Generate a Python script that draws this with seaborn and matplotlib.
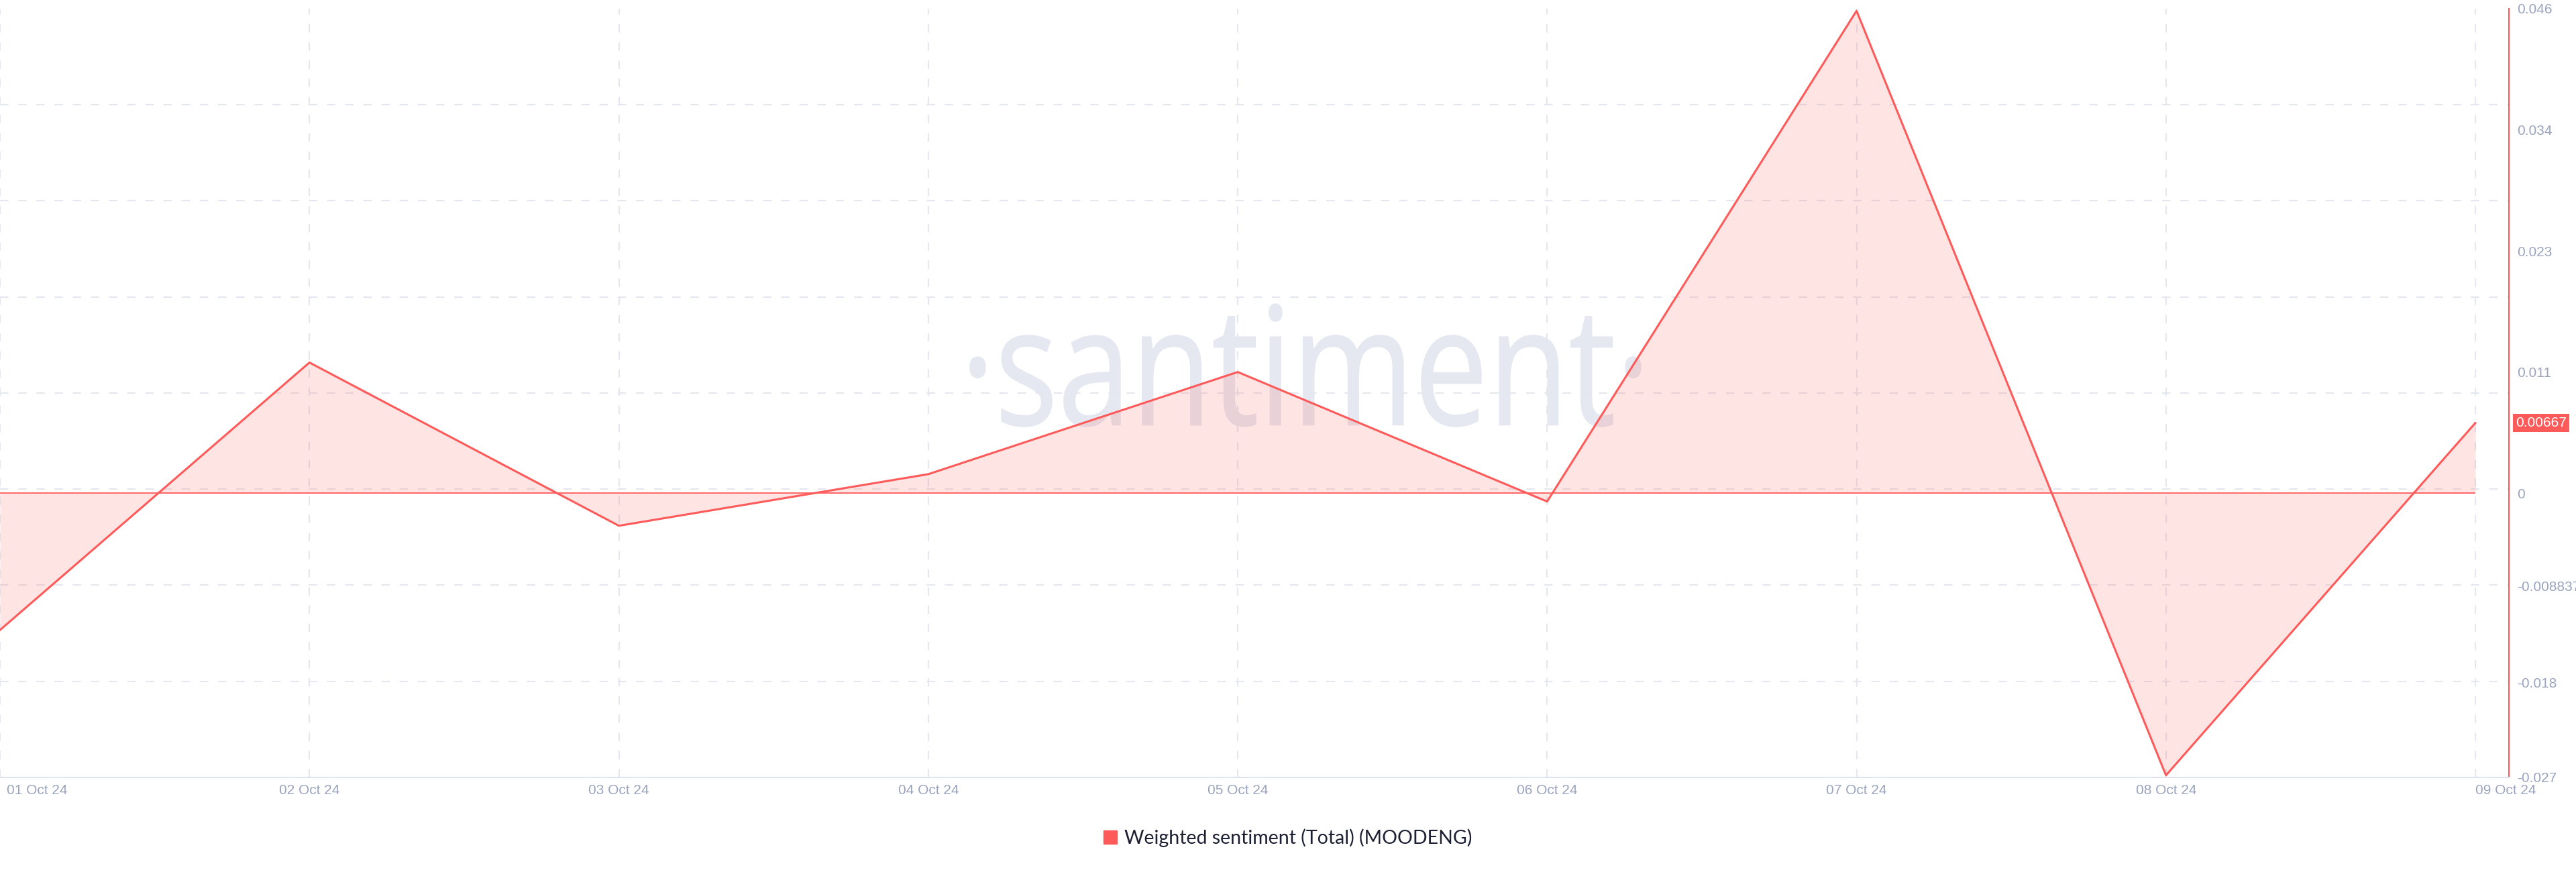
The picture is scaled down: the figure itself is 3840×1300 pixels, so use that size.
import matplotlib
matplotlib.use("Agg")
import numpy as np
import pandas as pd
import matplotlib.pyplot as plt
import matplotlib.dates as mdates
import seaborn as sns
from matplotlib.patches import Patch, PathPatch
from matplotlib.textpath import TextPath
from matplotlib.font_manager import FontProperties
from matplotlib.transforms import Affine2D, IdentityTransform, ScaledTranslation

# ===================== Data =====================
dates = ["2024-10-01", "2024-10-02", "2024-10-03", "2024-10-04", "2024-10-05",
         "2024-10-06", "2024-10-07", "2024-10-08", "2024-10-09"]
sentiment = [-0.0130, 0.0124, -0.0031, 0.0018, 0.0115, -0.0008, 0.0458, -0.0268, 0.00667]

ytick_values = [0.046, 0.0345, 0.023, 0.0115, 0, -0.008837, -0.018, -0.027]
ytick_labels = ["0.046", "0.034", "0.023", "0.011", "0", "-0.008837", "-0.018", "-0.027"]
y_min, y_max = -0.027, 0.046
last_label = "0.00667"
series_name = "Weighted sentiment (Total) (MOODENG)"

df = pd.DataFrame({"date": pd.to_datetime(dates), "value": sentiment})

# ===================== Style =====================
red = "#ff5a5a"
grid_c = "#e4e7f0"
tick_c = "#9ba4bf"
dash = (0, (6, 7))

sns.set_style("white")
plt.rcParams["font.family"] = ["Liberation Sans", "DejaVu Sans"]

fig = plt.figure(figsize=(38.4, 13), dpi=100)
W, H = 3840, 1300
ax = fig.add_axes([0, 1 - 1159 / H, 3740 / W, (1159 - 13) / H])
ax.patch.set_alpha(0)

# --- watermark (behind the axes) ---
tp = TextPath((0, 0), "\u00b7santiment\u00b7", size=100, prop=FontProperties(family="Open Sans"))
ext = tp.get_extents()
wm_tr = (Affine2D().translate(-ext.x0, -ext.y0)
         .scale(1000 / ext.width, 183 / ext.height)
         .translate(1446, H - 636))
wm = PathPatch(wm_tr.transform_path(tp), facecolor="#e5e8f1", edgecolor="#e5e8f1",
               linewidth=1.0, transform=IdentityTransform(), zorder=-5)
fig.add_artist(wm)

# --- series ---
ax.fill_between(df["date"], df["value"], 0, color=red, alpha=0.16, linewidth=0, zorder=2)
ax.hlines(0, df["date"].min(), df["date"].max(), color=red, linewidth=1.3, zorder=3)
sns.lineplot(data=df, x="date", y="value", color=red, linewidth=2.2, ax=ax, legend=False, zorder=4)

# --- axes ---
ax.set_ylim(y_min, y_max)
ax.set_xlim(df["date"].min(), df["date"].max() + pd.Timedelta(hours=2.6))
ax.set_xlabel("")
ax.set_ylabel("")

ax.yaxis.tick_right()
ax.set_yticks(ytick_values)
ax.set_yticklabels(ytick_labels)
ax.set_yticks(np.linspace(y_min, y_max, 9), minor=True)
ax.yaxis.grid(True, which="minor", color=grid_c, linestyle=dash, linewidth=1.5, zorder=0)
ax.yaxis.grid(False, which="major")

ax.set_xticks(df["date"])
ax.xaxis.set_major_formatter(mdates.DateFormatter("%d %b %y"))
ax.xaxis.grid(True, which="major", color=grid_c, linestyle=dash, linewidth=1.5, zorder=0)

ax.tick_params(which="both", length=0, colors=tick_c, labelsize=15)
ax.tick_params(axis="y", pad=9)
ax.tick_params(axis="x", pad=7)

xlabels = ax.get_xticklabels()
xlabels[0].set_ha("left")
xlabels[0].set_transform(xlabels[0].get_transform() + ScaledTranslation(0.1, 0, fig.dpi_scale_trans))
xlabels[-1].set_ha("left")

for s in ["top", "left"]:
    ax.spines[s].set_visible(False)
ax.spines["right"].set_color(red)
ax.spines["right"].set_linewidth(1.5)
ax.spines["bottom"].set_color("#dfe3ee")
ax.spines["bottom"].set_linewidth(1.5)

# current value tag
ax.annotate(last_label, xy=(1, sentiment[-1]), xycoords=("axes fraction", "data"),
            xytext=(10, 0), textcoords="offset pixels", ha="left", va="center",
            color="white", fontsize=15,
            bbox=dict(boxstyle="square,pad=0.2", fc=red, ec="none"))

# legend
fig.legend(handles=[Patch(color=red, label=series_name)], loc="center",
           bbox_to_anchor=(0.5, 1 - 1249 / H), frameon=False,
           handlelength=0.7, handleheight=0.7, handletextpad=0.4,
           prop=FontProperties(family="Lato", size=20.5), labelcolor="#1d2033")

fig.savefig("out.png", dpi=100, facecolor="white")
